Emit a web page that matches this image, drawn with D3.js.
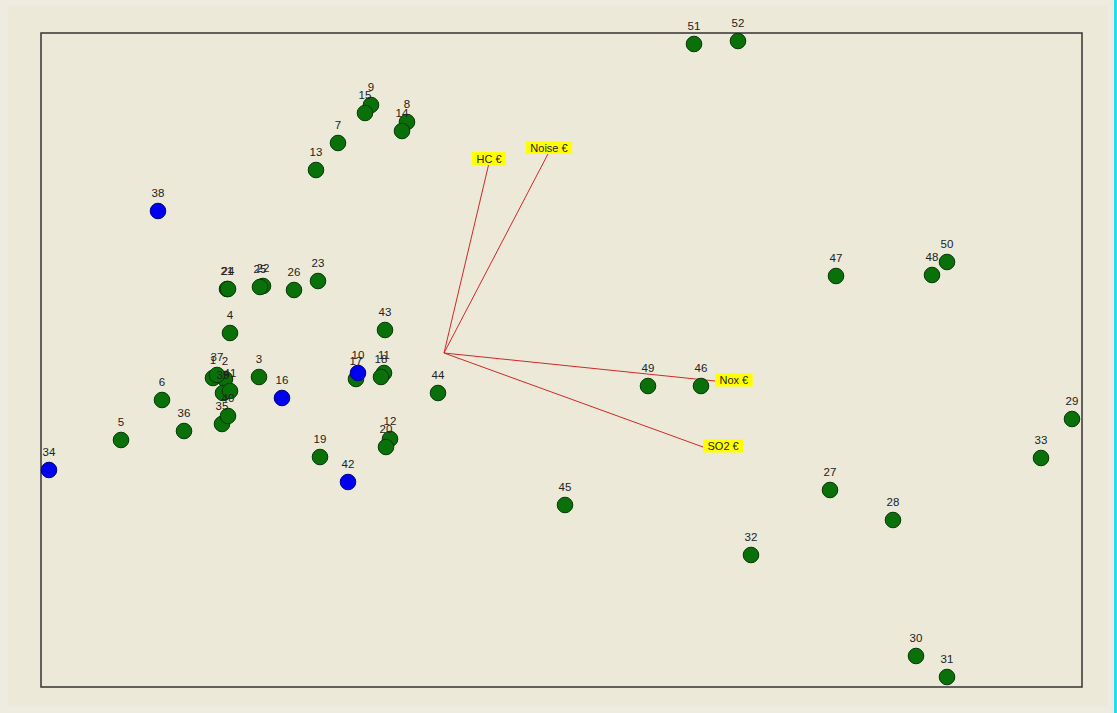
<!DOCTYPE html>
<html>
<head>
<meta charset="utf-8">
<script src="https://cdn.jsdelivr.net/npm/d3@7"></script>
<style>
body { margin: 0; background: #ECE9D8; }
svg { display: block; }
</style>
</head>
<body>
<div id="chart"></div>
<script>
// scores (object coordinates)
var ids = [1,2,3,4,5,6,7,8,9,10,11,12,13,14,15,16,17,18,19,20,21,22,23,24,25,26,
           27,28,29,30,31,32,33,34,35,36,37,38,39,40,41,42,43,44,45,46,47,48,49,50,51,52];
var xs = [-2.31,-2.19,-1.85,-2.14,-3.23,-2.82,-1.06,-0.37,-0.73,-0.86,-0.60,-0.54,-1.28,-0.42,-0.79,-1.62,
          -0.88,-0.63,-1.24,-0.58,-2.17,-1.81,-1.26,-2.16,-1.84,-1.50,3.86,4.49,6.28,4.72,5.03,3.07,
          5.97,-3.95,-2.22,-2.60,-2.27,-2.86,-2.21,-2.16,-2.14,-0.96,-0.59,-0.06,1.21,2.57,3.92,4.88,
          2.04,5.03,2.50,2.94];
var ys = [-0.25,-0.26,-0.24,0.20,-0.87,-0.47,2.10,2.31,2.48,-0.20,-0.20,-0.86,1.83,2.22,2.40,-0.45,
          -0.26,-0.24,-1.04,-0.94,0.64,0.67,0.72,0.64,0.66,0.63,-1.37,-1.67,-0.66,-3.03,-3.24,-2.02,
          -1.05,-1.17,-0.71,-0.78,-0.22,1.42,-0.40,-0.63,-0.38,-1.29,0.23,-0.40,-1.52,-0.33,0.77,0.78,
          -0.33,0.91,3.09,3.12];
var blueIds = [10,16,34,38,42];

// variable loadings
var varNames = ["HC \u20ac","Noise \u20ac","Nox \u20ac","SO2 \u20ac"];
var varX = [0.45,1.05,2.71,2.59];
var varY = [1.90,2.01,-0.28,-0.94];

var W = 1117, H = 713;
var svg = d3.select("#chart").append("svg")
    .attr("width", W)
    .attr("height", H);

svg.append("rect").attr("x",0).attr("y",0).attr("width",W).attr("height",H).attr("fill","#EEEBE0");
svg.append("rect").attr("x",8).attr("y",6).attr("width",1100).attr("height",700).attr("fill","#ECE9D8");
svg.append("rect").attr("x",W-3).attr("y",0).attr("width",3).attr("height",H).attr("fill","#22DDEE");

var x = d3.scaleLinear().domain([-4.03, 6.38]).range([41, 1082]);
var y = d3.scaleLinear().domain([3.20, -3.34]).range([33, 687]);

svg.append("rect")
    .attr("x", x(-4.03)).attr("y", y(3.20))
    .attr("width", x(6.38) - x(-4.03)).attr("height", y(-3.34) - y(3.20))
    .attr("fill", "none").attr("stroke", "#333").attr("stroke-width", 1.5);

var pts = ids.map(function(id, i){
    return {id: id, x: xs[i], y: ys[i], blue: blueIds.indexOf(id) >= 0};
});

// vectors
var vecs = varNames.map(function(n, i){ return {name: n, x: varX[i], y: varY[i]}; });
svg.selectAll("line.vec").data(vecs).enter().append("line")
    .attr("class","vec")
    .attr("x1", x(0)).attr("y1", y(0))
    .attr("x2", function(d){ return x(d.x); })
    .attr("y2", function(d){ return y(d.y); })
    .attr("stroke", "#D02828").attr("stroke-width", 1);

// points: green first, blue on top
var sorted = pts.filter(function(d){ return !d.blue; }).concat(pts.filter(function(d){ return d.blue; }));
svg.selectAll("circle.pt").data(sorted).enter().append("circle")
    .attr("class","pt")
    .attr("cx", function(d){ return x(d.x); })
    .attr("cy", function(d){ return y(d.y); })
    .attr("r", 7.8)
    .attr("fill", function(d){ return d.blue ? "#0000F0" : "#0A700A"; })
    .attr("stroke", function(d){ return d.blue ? "#000080" : "#053805"; })
    .attr("stroke-width", 1);

svg.selectAll("text.lbl").data(pts).enter().append("text")
    .attr("class","lbl")
    .attr("x", function(d){ return x(d.x); })
    .attr("y", function(d){ return y(d.y) - 14; })
    .attr("text-anchor", "middle")
    .attr("font-family", "Liberation Sans, Arial, sans-serif")
    .attr("font-size", 11.5)
    .attr("fill", "#222")
    .text(function(d){ return d.id; });

// variable labels on yellow boxes
var vg = svg.selectAll("g.vlab").data(vecs).enter().append("g").attr("class","vlab");
vg.each(function(d){
    var g = d3.select(this);
    var ex = x(d.x), ey = y(d.y);
    var t = g.append("text")
        .attr("font-family", "Liberation Sans, Arial, sans-serif")
        .attr("font-size", 11)
        .attr("fill", "#222")
        .text(d.name);
    var bw = t.node().getComputedTextLength() + 9, bh = 13;
    var bx, by;
    if (Math.abs(d.x) > Math.abs(d.y)) { bx = ex; by = ey - bh / 2 - 1; }
    else { bx = ex - bw / 2; by = ey - bh + 2; }
    g.insert("rect", "text").attr("x", bx).attr("y", by).attr("width", bw).attr("height", bh)
        .attr("fill", "#FFFF00");
    t.attr("x", bx + 4.5).attr("y", by + 10.5);
});
</script>
</body>
</html>
